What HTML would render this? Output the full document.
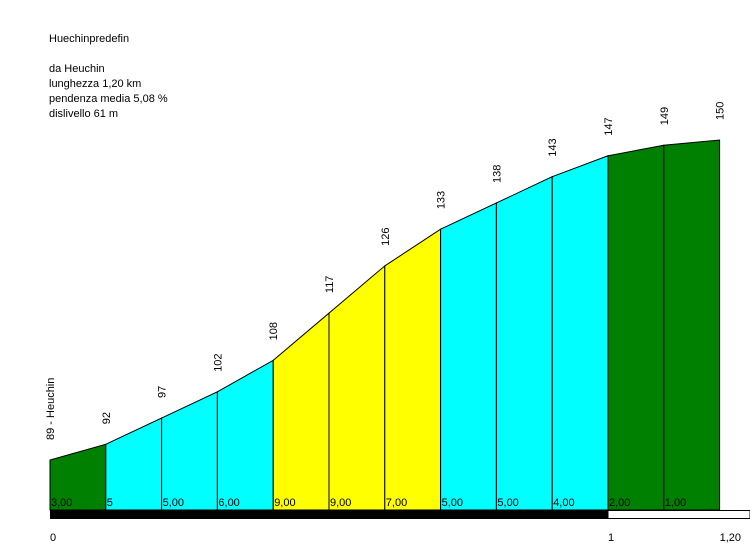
<!DOCTYPE html>
<html><head><meta charset="utf-8"><style>
body{margin:0;background:#fff;}
svg{display:block;font-family:"Liberation Sans",sans-serif;}
</style></head><body>
<svg id="chart" width="750" height="550" viewBox="0 0 750 550" xmlns="http://www.w3.org/2000/svg">
<g font-size="11" fill="#000">
<text x="49" y="42">Huechinpredefin</text>
<text x="49" y="72">da Heuchin</text>
<text x="49" y="87">lunghezza 1,20 km</text>
<text x="49" y="102">pendenza media 5,08 %</text>
<text x="49" y="117">dislivello 61 m</text>
</g>
<g id="profile"></g>
</svg>
<script>
const distances = [0,0.1,0.2,0.3,0.4,0.5,0.6,0.7,0.8,0.9,1.0,1.1,1.2];
const elevations = [89,92,97,102,108,117,126,133,138,143,147,149,150];
const pointLabels = ["89 - Heuchin","92","97","102","108","117","126","133","138","143","147","149","150"];
const gradientLabels = ["3,00","5","5,00","6,00","9,00","9,00","7,00","5,00","5,00","4,00","2,00","1,00"];
const segmentColors = ["#008000","#00ffff","#00ffff","#00ffff","#ffff00","#ffff00","#ffff00","#00ffff","#00ffff","#00ffff","#008000","#008000"];
const axisTicks = [0,1,1.2];
const axisTickLabels = ["0","1","1,20"];

const x0=50, pxPerKm=558, baseY=510, refElev=89, refY=460, pxPerM=5.246;
const xs = d => x0 + d*pxPerKm;
const ys = e => refY - (e-refElev)*pxPerM;
const NS="http://www.w3.org/2000/svg";
const g=document.getElementById('profile');
function mk(t,a){const e=document.createElementNS(NS,t);for(const k in a)e.setAttribute(k,a[k]);g.appendChild(e);return e;}

for(let i=0;i<distances.length-1;i++){
  const xa=xs(distances[i]), xb=xs(distances[i+1]);
  const p=mk('polygon',{points:`${xa},${baseY} ${xa},${ys(elevations[i])} ${xb},${ys(elevations[i+1])} ${xb},${baseY}`,fill:segmentColors[i],stroke:'#000','stroke-width':1});
  
  
  const t=mk('text',{x:xa+1,y:baseY-4,'font-size':11});
  t.textContent=gradientLabels[i];
  
  
}
for(let i=0;i<distances.length;i++){
  const x=xs(distances[i]), y=ys(elevations[i])-20;
  const t=mk('text',{x:x+4,y:y,'font-size':11,transform:`rotate(-90 ${x+4} ${y})`});
  t.textContent=pointLabels[i];
  
  
}
const b1=mk('rect',{x:xs(0),y:baseY,width:xs(1)-xs(0),height:9,fill:'#000'});


const b2=mk('rect',{x:xs(1),y:baseY+0.5,width:750-xs(1),height:8,fill:'#fff',stroke:'#000','stroke-width':1});


for(let i=0;i<axisTicks.length;i++){
  const t=mk('text',{x:xs(axisTicks[i]),y:541,'font-size':11});
  t.textContent=axisTickLabels[i];
  
  
}
</script>
</body></html>
